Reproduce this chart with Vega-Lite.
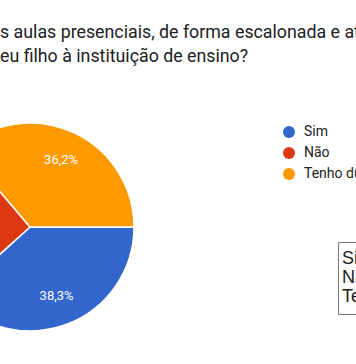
{
  "$schema": "https://vega.github.io/schema/vega-lite/v6.json",
  "width": 356,
  "height": 364,
  "autosize": {"type": "none"},
  "padding": 0,
  "background": "white",
  "title": {
    "text": ["s aulas presenciais, de forma escalonada e at", "eu filho à instituição de ensino?"],
    "anchor": "start",
    "frame": "group",
    "orient": "top",
    "baseline": "top",
    "offset": 0,
    "dy": 66,
    "font": "Roboto",
    "fontSize": 17.8,
    "fontWeight": "normal",
    "color": "#202124",
    "lineHeight": 24
  },
  "data": {
    "values": [
      {"resposta": "Sim", "pct": 38.3, "rotulo": "38,3%", "ordem": 1},
      {"resposta": "Não", "pct": 25.5, "rotulo": "25,5%", "ordem": 2},
      {"resposta": "Tenho dúvidas", "pct": 36.2, "rotulo": "36,2%", "ordem": 3}
    ]
  },
  "layer": [
    {
      "mark": {"type": "arc", "x": 30, "y": 227, "outerRadius": 104, "strokeWidth": 1.5},
      "encoding": {
        "theta": {"field": "pct", "type": "quantitative", "stack": true, "scale": {"range": [1.5708, 7.854]}},
        "order": {"field": "ordem", "type": "quantitative"},
        "color": {
          "field": "resposta", "type": "nominal",
          "scale": {"domain": ["Sim", "Não", "Tenho dúvidas"], "range": ["#3366cc", "#dc3912", "#ff9900"]},
          "legend": {
            "title": null, "orient": "none", "legendX": 282, "legendY": 125,
            "symbolType": "circle", "symbolSize": 144, "symbolStrokeWidth": 0,
            "labelFont": "Roboto", "labelFontSize": 14, "labelColor": "#222222",
            "labelOffset": 8, "rowPadding": 7, "padding": 0
          }
        },
        "stroke": {
          "field": "resposta", "type": "nominal",
          "sort": {"field": "ordem", "op": "min"},
          "scale": {"range": ["#ffffff", "#ffffff", "#ffffff"]},
          "legend": {
            "title": null, "orient": "none", "legendX": 338, "legendY": 242,
            "strokeColor": "#777777", "padding": 8,
            "symbolSize": 1, "symbolStrokeWidth": 0, "symbolOpacity": 0,
            "labelOffset": -22, "labelFont": "Liberation Sans", "labelFontSize": 18,
            "labelColor": "#222222", "rowPadding": 1
          }
        }
      }
    },
    {
      "mark": {"type": "text", "x": 30, "y": 227, "radius": 74, "fill": "white", "font": "Roboto", "fontSize": 13},
      "encoding": {
        "theta": {"field": "pct", "type": "quantitative", "stack": true},
        "order": {"field": "ordem", "type": "quantitative"},
        "text": {"field": "rotulo"}
      }
    }
  ]
}
